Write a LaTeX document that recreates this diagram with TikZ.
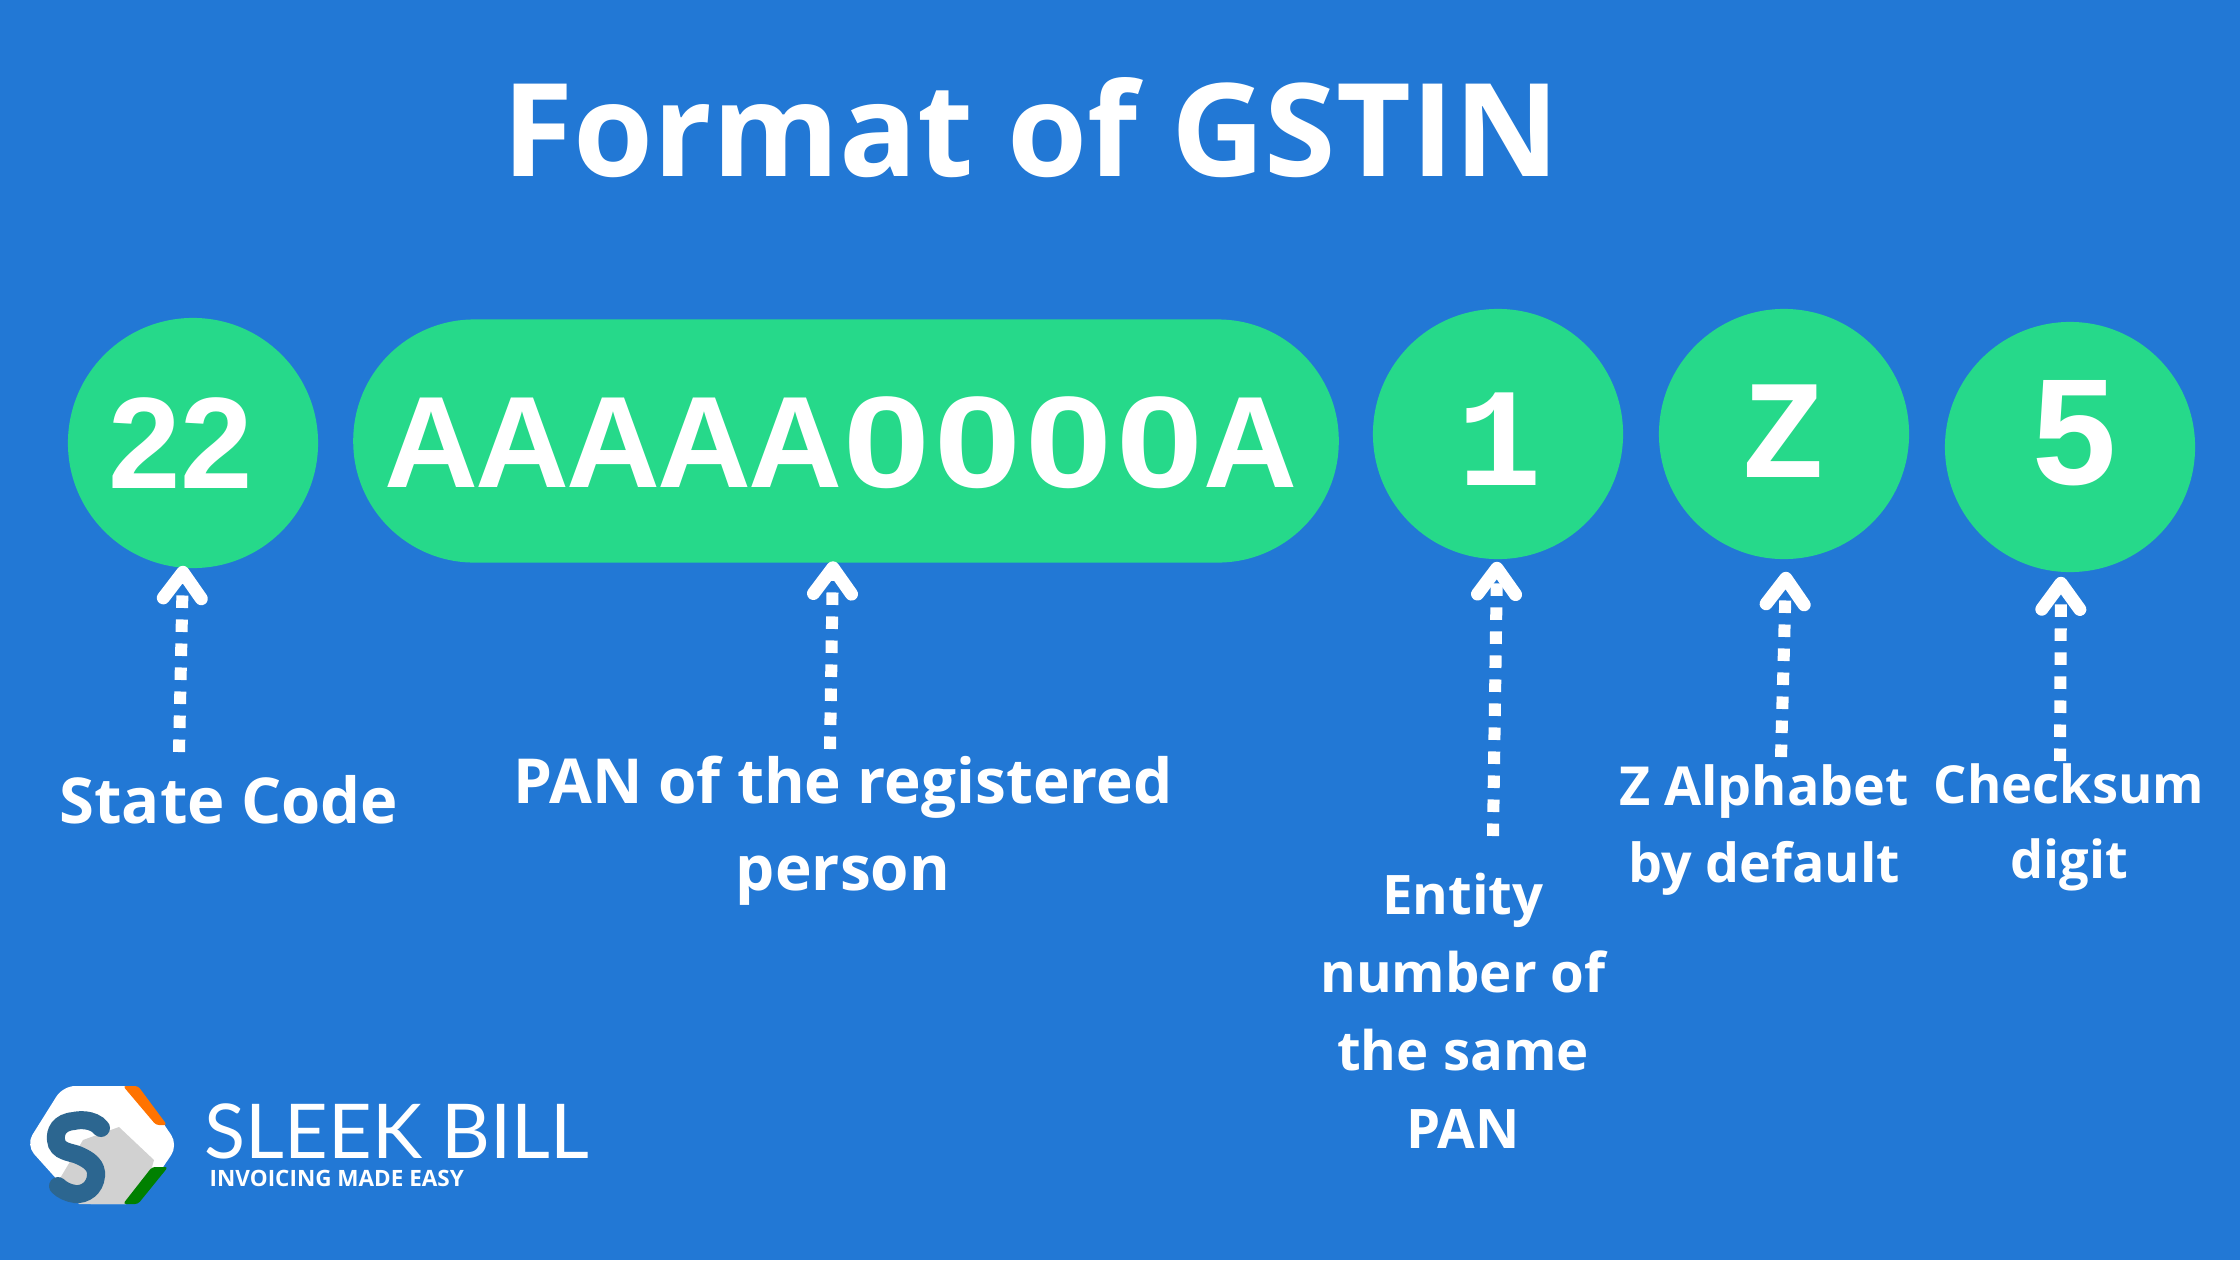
\documentclass[tikz,border=0pt]{standalone}
\usepackage{fontspec}
\setmainfont{Open Sans}
\newfontfamily\logofont{Lato}
\newfontfamily\monofont{Liberation Mono}
\newfontfamily\grotfont{Liberation Sans}
\newcommand{\cell}[1]{\makebox[25.9pt]{#1}}
\newcommand{\zerocell}{\cell{\scalebox{1.2}[1]{0}}}
\usetikzlibrary{arrows.meta}
\definecolor{sheet}{HTML}{2278D5}
\definecolor{mint}{HTML}{26D98A}
\definecolor{slate}{HTML}{2C6690}
\begin{document}
\begin{tikzpicture}[x=0.01cm, y=-0.01cm,
        every circle node/.append style={fill=mint, inner sep=0pt, minimum size=2.5cm}]
      \tikzstyle{title} = [font=\bfseries\fontsize{36.8}{44}\selectfont,color=white]
      \tikzstyle{glyph} = [font=\grotfont\bfseries\fontsize{37}{44}\selectfont,color=white,inner sep=0pt]
      \tikzstyle{monoglyph} = [font=\monofont\bfseries\fontsize{40}{44}\selectfont,color=white,inner sep=0pt]
      \tikzstyle{word} = [font=\bfseries\fontsize{15.3}{22}\selectfont,color=white,align=center]
      \tikzstyle{brandword} = [color=white,anchor=south west,inner sep=0pt,text depth=0pt]
      \tikzstyle{pointer} = [white,line width=.12cm,dash pattern=on .125cm off .115cm,
        -{Straight Barb[round,length=.26cm,width=.38cm,line width=.13cm]}]
      \fill [sheet] (0,0) rectangle (2240,1260);
      \node (head) [title] at (1031,128) {Format of GSTIN};
      \node (state) [circle] at (193,443) {};
      \node (pan) [fill=mint,rounded corners=1.21cm,minimum width=9.85cm,minimum height=2.43cm] at (846,441) {};
      \node (entity) [circle] at (1498,434) {};
      \node (alpha) [circle] at (1784,434) {};
      \node (check) [circle] at (2070,447) {};
      \node (statenum) [glyph] at (181,443) {22};
      \node (pannum) [glyph] at (841,443) {\cell{A}\cell{A}\cell{A}\cell{A}\cell{A}\zerocell\zerocell\zerocell\zerocell\cell{A}};
      \node (entitynum) [monoglyph] at (1500,439) {1};
      \node (alphanum) [monoglyph] at (1784,431) {Z};
      \node (checknum) [glyph,font=\grotfont\bfseries\fontsize{43}{50}\selectfont] at (2075,433) {5};
      \node (statetext) [word,font=\bfseries\fontsize{18}{22}\selectfont] at (229,800) {State Code};
      \node (pantext) [word,font=\bfseries\fontsize{17.65}{24.7}\selectfont] at (843,831) {PAN of the registered\\person};
      \node (entitytext) [word,font=\bfseries\fontsize{15.5}{22.2}\selectfont] at (1463,1011) {Entity\\number of\\the same\\PAN};
      \node (alphatext) [word] at (1764,830) {Z Alphabet\\by default};
      \node (checktext) [word,font=\bfseries\fontsize{14.9}{21.3}\selectfont] at (2069,827) {Checksum\\digit};
      \draw [pointer] ([shift={(-50,-48)}]statetext.center) -- ([shift={(-10,-3)}]state.south);
      \draw [pointer] ([shift={(-13,-82)}]pantext.center) -- ([shift={(-13,-2)}]pan.south);
      \draw [pointer] ([shift={(30,-175)}]entitytext.center) -- ([shift={(-1,2)}]entity.south);
      \draw [pointer] ([shift={(17,-73)}]alphatext.center) -- ([shift={(2,12)}]alpha.south);
      \draw [pointer] ([shift={(-9,-66)}]checktext.center) -- ([shift={(-9,4)}]check.south);
      \fill [white,rounded corners=.12cm] (63,1086) -- (138,1086) -- (178,1145) -- (138,1204) -- (79,1204) -- (26,1145) -- cycle;
      \fill [black!18] (119,1127) -- (154,1160) -- (152,1167) -- (126,1204) -- (79,1204) -- (59,1180) -- (83,1140) -- cycle;
      \fill [orange!90!red,rounded corners=.03cm] (123,1086) -- (138,1086) -- (167,1125) -- (156,1125) -- cycle;
      \fill [green!50!black,rounded corners=.03cm] (152,1167) -- (168,1167) -- (138,1204) -- (123,1204) -- cycle;
      \draw [slate,line width=.18cm,line cap=round] (101,1128) .. controls (93,1118) and (77,1120) .. (74,1121)
        .. controls (59,1122) and (55,1132) .. (56,1140) .. controls (57,1152) and (71,1152) .. (78,1155)
        .. controls (90,1160) and (97,1166) .. (96,1176) .. controls (95,1188) and (85,1195) .. (75,1194)
        .. controls (68,1193) and (62,1190) .. (58,1186);
      \node (brand) [brandword,text height=.54cm,font=\logofont\fontsize{21.5}{24}\selectfont] at (204,1159) {SLEEK BILL};
      \node (tagline) [brandword,text height=.16cm,font=\bfseries\fontsize{6.4}{8}\selectfont] at (209,1187) {INVOICING MADE EASY};
    \end{tikzpicture}
\end{document}
